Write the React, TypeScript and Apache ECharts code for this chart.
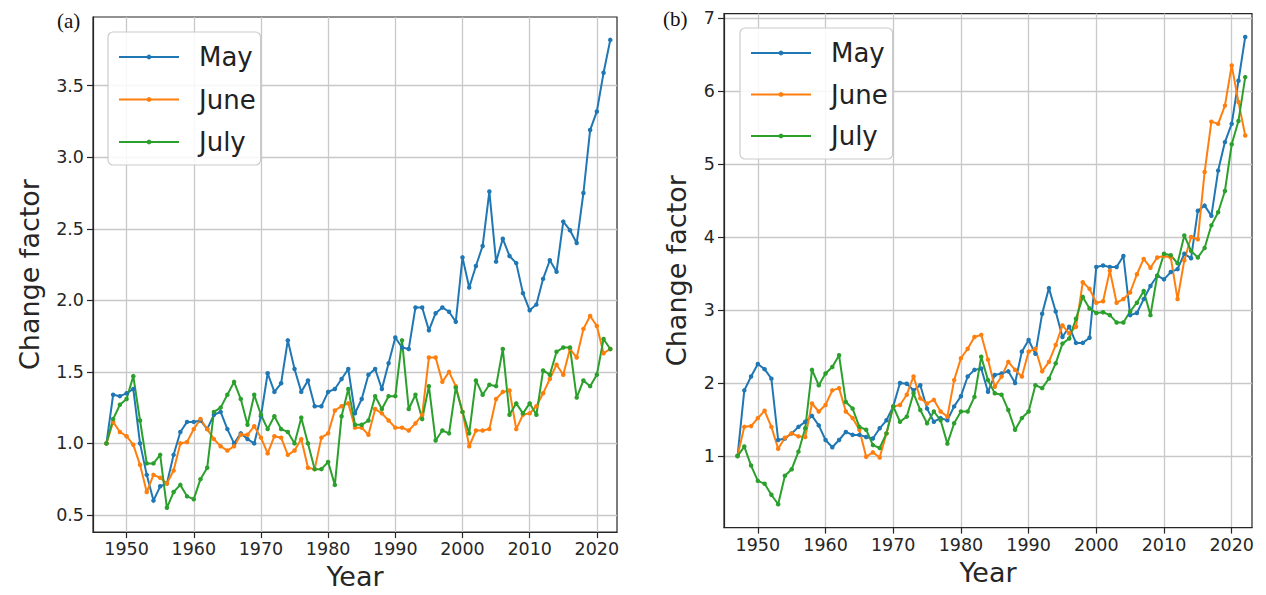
import React, { useEffect, useRef } from "react";
import * as echarts from "echarts";

const years = [
  1947, 1948, 1949, 1950, 1951, 1952, 1953, 1954, 1955, 1956, 1957, 1958, 1959,
  1960, 1961, 1962, 1963, 1964, 1965, 1966, 1967, 1968, 1969, 1970, 1971, 1972,
  1973, 1974, 1975, 1976, 1977, 1978, 1979, 1980, 1981, 1982, 1983, 1984, 1985,
  1986, 1987, 1988, 1989, 1990, 1991, 1992, 1993, 1994, 1995, 1996, 1997, 1998,
  1999, 2000, 2001, 2002, 2003, 2004, 2005, 2006, 2007, 2008, 2009, 2010, 2011,
  2012, 2013, 2014, 2015, 2016, 2017, 2018, 2019, 2020, 2021, 2022,
];

const seriesNames = ["May", "June", "July"];
const xTickLabels = [1950, 1960, 1970, 1980, 1990, 2000, 2010, 2020];
const yTicksA = [0.5, 1.0, 1.5, 2.0, 2.5, 3.0, 3.5];
const yTicksB = [1, 2, 3, 4, 5, 6, 7];

// Panel (a)
const mayA = [
  1.0, 1.34, 1.33, 1.35, 1.38, 1.0, 0.78, 0.6, 0.7, 0.72, 0.92, 1.08, 1.15,
  1.15, 1.16, 1.1, 1.2, 1.22, 1.1, 1.0, 1.07, 1.03, 1.0, 1.19, 1.49, 1.36,
  1.42, 1.72, 1.52, 1.36, 1.44, 1.26, 1.26, 1.36, 1.38, 1.45, 1.52, 1.21, 1.31,
  1.48, 1.52, 1.38, 1.56, 1.74, 1.67, 1.66, 1.95, 1.95, 1.79, 1.91, 1.95, 1.92,
  1.85, 2.3, 2.09, 2.24, 2.38, 2.76, 2.27, 2.43, 2.31, 2.26, 2.05, 1.93, 1.97,
  2.15, 2.28, 2.2, 2.55, 2.49, 2.4, 2.75, 3.19, 3.32, 3.59, 3.82,
];
const juneA = [
  1.0, 1.15, 1.08, 1.05, 0.99, 0.85, 0.66, 0.78, 0.76, 0.72, 0.81, 1.0, 1.01,
  1.1, 1.17, 1.1, 1.03, 0.98, 0.95, 0.98, 1.06, 1.06, 1.12, 1.04, 0.93, 1.05,
  1.04, 0.92, 0.95, 1.03, 0.83, 0.82, 1.04, 1.07, 1.23, 1.26, 1.28, 1.11, 1.11,
  1.06, 1.24, 1.21, 1.16, 1.11, 1.11, 1.09, 1.14, 1.2, 1.6, 1.6, 1.43, 1.5,
  1.4, 1.22, 0.98, 1.09, 1.09, 1.1, 1.31, 1.36, 1.37, 1.1, 1.2, 1.21, 1.26,
  1.35, 1.45, 1.55, 1.48, 1.66, 1.6, 1.8, 1.89, 1.82, 1.63, 1.66,
];
const julyA = [
  1.0, 1.17, 1.27, 1.31, 1.47, 1.16, 0.86, 0.86, 0.92, 0.55, 0.66, 0.71, 0.63,
  0.61, 0.75, 0.83, 1.22, 1.25, 1.34, 1.43, 1.31, 1.13, 1.34, 1.2, 1.1, 1.19,
  1.1, 1.08, 1.0, 1.18, 1.0, 0.82, 0.82, 0.87, 0.71, 1.19, 1.38, 1.13, 1.13,
  1.16, 1.33, 1.24, 1.33, 1.33, 1.72, 1.24, 1.34, 1.17, 1.4, 1.02, 1.09, 1.07,
  1.39, 1.22, 1.07, 1.44, 1.34, 1.41, 1.4, 1.66, 1.2, 1.28, 1.21, 1.28, 1.2,
  1.51, 1.48, 1.64, 1.67, 1.67, 1.32, 1.44, 1.4, 1.48, 1.73, 1.66,
];

// Panel (b)
const mayB = [
  1.0, 1.9, 2.09, 2.26, 2.19, 2.06, 1.22, 1.24, 1.31, 1.4, 1.47, 1.55, 1.42,
  1.22, 1.12, 1.22, 1.33, 1.29, 1.29, 1.26, 1.24, 1.38, 1.49, 1.68, 2.0, 1.99,
  1.9, 1.97, 1.65, 1.47, 1.52, 1.49, 1.68, 1.82, 2.09, 2.18, 2.2, 1.88, 2.11,
  2.13, 2.16, 2.0, 2.43, 2.59, 2.4, 2.95, 3.3, 2.98, 2.63, 2.77, 2.55, 2.55,
  2.62, 3.59, 3.61, 3.59, 3.59, 3.74, 2.93, 2.96, 3.15, 3.33, 3.47, 3.42, 3.52,
  3.56, 3.77, 3.71, 4.36, 4.43, 4.29, 4.91, 5.3, 5.55, 6.14, 6.74,
];
const juneB = [
  1.0, 1.4, 1.41, 1.52, 1.62, 1.4, 1.1, 1.25, 1.31, 1.27, 1.26, 1.72, 1.61,
  1.7, 1.9, 1.93, 1.61, 1.52, 1.36, 0.99, 1.05, 0.98, 1.31, 1.68, 1.7, 1.84,
  2.09, 1.79, 1.72, 1.77, 1.61, 1.54, 2.04, 2.34, 2.47, 2.63, 2.66, 2.32, 1.95,
  2.09, 2.29, 2.18, 2.09, 2.43, 2.47, 2.16, 2.29, 2.52, 2.79, 2.68, 2.77, 3.38,
  3.29, 3.1, 3.12, 3.54, 3.1, 3.15, 3.24, 3.49, 3.7, 3.58, 3.72, 3.74, 3.72,
  3.15, 3.68, 4.0, 3.97, 4.89, 5.58, 5.55, 5.8, 6.35, 5.85, 5.39,
];
const julyB = [
  1.0, 1.13, 0.87, 0.66, 0.62, 0.47, 0.34, 0.73, 0.82, 1.06, 1.38, 2.18, 1.97,
  2.13, 2.22, 2.38, 1.74, 1.65, 1.4, 1.36, 1.15, 1.11, 1.31, 1.68, 1.47, 1.54,
  1.86, 1.63, 1.45, 1.61, 1.49, 1.17, 1.45, 1.61, 1.61, 1.81, 2.36, 2.04, 1.86,
  1.84, 1.63, 1.36, 1.52, 1.61, 1.97, 1.93, 2.06, 2.27, 2.54, 2.61, 2.88, 3.18,
  3.02, 2.96, 2.97, 2.93, 2.83, 2.83, 2.98, 3.1, 3.26, 2.93, 3.47, 3.77, 3.75,
  3.64, 4.02, 3.81, 3.72, 3.85, 4.16, 4.34, 4.63, 5.27, 5.59, 6.19,
];

const colors = ["#1f77b4", "#ff7f0e", "#2ca02c"];
const FONT = "DejaVu Sans";
const DARK = "#262626";

function pairs(vals: number[]) {
  return years.map((y, i) => [y, vals[i]]);
}

function isTick(v: number, list: number[]) {
  return list.some((t) => Math.abs(t - v) < 1e-6);
}

export default function App() {
  const ref = useRef<HTMLDivElement>(null);

  useEffect(() => {
    if (!ref.current) return;
    const chart = echarts.init(ref.current, undefined, { renderer: "svg" });

    const makeX = (gridIndex: number) => ({
      type: "value",
      gridIndex,
      min: 1945,
      max: 2023,
      minInterval: 10,
      maxInterval: 10,
      name: "Year",
      nameLocation: "middle",
      nameGap: 30,
      nameTextStyle: { fontSize: 27, fontFamily: FONT, color: DARK },
      axisLine: { show: true, lineStyle: { color: DARK, width: 1.2 } },
      axisTick: {
        show: true,
        length: 6,
        customValues: xTickLabels,
        lineStyle: { color: DARK, width: 1.2 },
      },
      axisLabel: {
        fontSize: 17.5,
        fontFamily: FONT,
        color: DARK,
        margin: 8,
        customValues: xTickLabels,
        formatter: (v: number) => (isTick(v, xTickLabels) ? String(v) : ""),
      },
      splitLine: { show: true, lineStyle: { color: "#c8c8c8", width: 1.3 } },
    });

    const makeY = (
      gridIndex: number,
      min: number,
      max: number,
      step: number,
      ticks: number[],
      digits: number
    ) => ({
      type: "value",
      gridIndex,
      min,
      max,
      minInterval: step,
      maxInterval: step,
      name: "Change factor",
      nameLocation: "middle",
      nameGap: gridIndex === 0 ? 50 : 34,
      nameTextStyle: { fontSize: 27, fontFamily: FONT, color: DARK },
      axisLine: { show: true, lineStyle: { color: DARK, width: 1.2 } },
      axisTick: {
        show: true,
        length: 6,
        customValues: ticks,
        lineStyle: { color: DARK, width: 1.2 },
      },
      axisLabel: {
        fontSize: 17.5,
        fontFamily: FONT,
        color: DARK,
        margin: 9,
        customValues: ticks,
        formatter: (v: number) => (isTick(v, ticks) ? v.toFixed(digits) : ""),
      },
      splitLine: { show: true, lineStyle: { color: "#c8c8c8", width: 1.3 } },
    });

    const makeSeries = (name: string, vals: number[], idx: number, panel: number) => ({
      type: "line",
      name,
      xAxisIndex: panel,
      yAxisIndex: panel,
      data: pairs(vals),
      symbol: "circle",
      symbolSize: 4.5,
      showSymbol: true,
      color: colors[idx],
      lineStyle: { width: 2, color: colors[idx] },
      itemStyle: { color: colors[idx] },
      emphasis: { disabled: true },
    });

    const makeLegend = (left: number, top: number, gap: number) => ({
      show: true,
      orient: "vertical",
      left,
      top,
      data: seriesNames,
      itemWidth: 60,
      itemHeight: 6,
      itemGap: gap,
      padding: [10, 5, 8, 10],
      backgroundColor: "rgba(255,255,255,0.85)",
      borderColor: "#cccccc",
      borderWidth: 1.2,
      borderRadius: 5,
      selectedMode: false,
      textStyle: {
        fontSize: 26,
        lineHeight: 30,
        fontFamily: FONT,
        color: "#222",
        padding: [0, 0, 0, 15],
      },
    });

    chart.setOption({
      animation: false,
      backgroundColor: "#ffffff",
      textStyle: { fontFamily: FONT },
      grid: [
        {
          left: 93,
          top: 17,
          width: 524,
          height: 516,
          show: true,
          borderColor: DARK,
          borderWidth: 1.2,
          backgroundColor: "transparent",
        },
        {
          left: 724,
          top: 13.6,
          width: 528,
          height: 514,
          show: true,
          borderColor: DARK,
          borderWidth: 1.2,
          backgroundColor: "transparent",
        },
      ],
      xAxis: [makeX(0), makeX(1)],
      yAxis: [
        makeY(0, 0.38, 3.98, 0.5, yTicksA, 1),
        makeY(1, 0.02, 7.06, 1, yTicksB, 0),
      ],
      legend: [makeLegend(108, 32, 12.5), makeLegend(740, 28, 11.5)],
      graphic: [
        {
          type: "text",
          left: 57,
          top: 10,
          style: {
            text: "(a)",
            fontSize: 21,
            fontFamily: "Liberation Serif",
            fill: "#111",
          },
        },
        {
          type: "text",
          left: 663,
          top: 8,
          style: {
            text: "(b)",
            fontSize: 21,
            fontFamily: "Liberation Serif",
            fill: "#111",
          },
        },
      ],
      series: [
        makeSeries("May", mayA, 0, 0),
        makeSeries("June", juneA, 1, 0),
        makeSeries("July", julyA, 2, 0),
        makeSeries("May", mayB, 0, 1),
        makeSeries("June", juneB, 1, 1),
        makeSeries("July", julyB, 2, 1),
      ],
    });

    return () => chart.dispose();
  }, []);

  return (
    <div
      ref={ref}
      style={{ position: "fixed", left: 0, top: 0, width: 1266, height: 595 }}
    />
  );
}
